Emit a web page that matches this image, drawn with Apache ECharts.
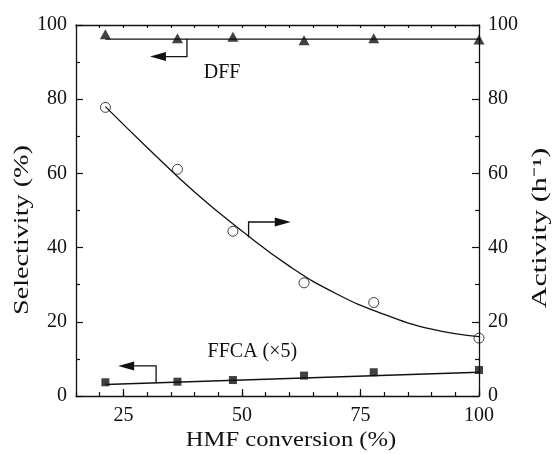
<!DOCTYPE html>
<html>
<head>
	<meta charset="utf-8">
	<title>Selectivity and activity vs HMF conversion</title>
	<script src="https://cdn.jsdelivr.net/npm/echarts@6/dist/echarts.min.js"></script>
	<style>
		html, body { margin: 0; padding: 0; background: #fff; }
		#chart { width: 552px; height: 454px; }
	</style>
</head>
<body>
<div id="chart"></div>
<script>
	// HMF conversion (%) for each measured point
	var conversion = [21.2, 36.4, 48.1, 63.1, 77.8, 100];
	// selectivity to DFF (%), left axis
	var dff = [97.5, 96.4, 96.8, 95.9, 96.4, 96.1];
	// selectivity to FFCA x5 (%), left axis
	var ffca = [3.7, 3.85, 4.3, 5.5, 6.4, 7.0];
	// activity (h-1), right axis
	var activity = [77.8, 61.1, 44.4, 30.5, 25.2, 15.6];

	// fitted lines
	var dffFit = [[21.2, 96.2], [100, 96.2]];
	var ffcaFit = [[21.2, 3.1], [100, 6.4]];
	var activityFitX = [21.2, 30, 40, 50, 60, 70, 80, 90, 100];
	var activityFitY = [78, 67, 55, 44.5, 35, 27.5, 22, 18, 16];

	var xMajor = [25, 50, 75, 100];
	var font = '"Liberation Serif", "Times New Roman", Times, serif';
	var ink = '#111';

	function pairs(xs, ys) {
		return xs.map(function (x, i) { return [x, ys[i]]; });
	}

	var chart = echarts.init(document.getElementById('chart'), null, {renderer: 'canvas'});

	var yBase = {
		type: 'value', min: 0, max: 100, interval: 20,
		axisLine: {show: true, lineStyle: {color: ink, width: 1.3}},
		axisTick: {show: true, inside: true, length: 7, lineStyle: {color: ink, width: 1.2}},
		minorTick: {show: true, splitNumber: 2, length: 4, lineStyle: {color: ink, width: 1.2}},
		splitLine: {show: false},
		axisLabel: {color: ink, fontFamily: font, fontSize: 20, margin: 9}
	};

	chart.setOption({
		animation: false,
		backgroundColor: '#fff',
		grid: {left: 76, right: 73, top: 25, bottom: 58},
		xAxis: [{
			type: 'value', min: 15, max: 100, position: 'bottom',
			axisLine: {show: true, onZero: false, lineStyle: {color: ink, width: 1.3}},
			axisTick: {show: true, inside: true, length: 7, customValues: xMajor, lineStyle: {color: ink, width: 1.2}},
			axisLabel: {color: ink, fontFamily: font, fontSize: 20, margin: 10, customValues: xMajor},
			splitLine: {show: false}
		}, {
			type: 'value', min: 15, max: 100, interval: 5, position: 'bottom',
			axisLine: {show: false, onZero: false},
			axisTick: {show: true, inside: true, length: 4, lineStyle: {color: ink, width: 1.2}},
			axisLabel: {show: false},
			splitLine: {show: false}
		}, {
			type: 'value', min: 15, max: 100, interval: 5, position: 'top',
			axisLine: {show: true, onZero: false, lineStyle: {color: ink, width: 1.3}},
			axisTick: {show: true, inside: true, length: 3, lineStyle: {color: ink, width: 1.2}},
			axisLabel: {show: false},
			splitLine: {show: false}
		}],
		yAxis: [
			Object.assign({}, yBase, {position: 'left'}),
			Object.assign({}, yBase, {position: 'right'})
		],
		series: [{
			type: 'line', data: dffFit, symbol: 'none', silent: true,
			lineStyle: {color: ink, width: 1.3}
		}, {
			type: 'scatter', data: pairs(conversion, dff),
			symbol: 'triangle', symbolSize: [11, 10],
			itemStyle: {color: ink}
		}, {
			type: 'line', yAxisIndex: 1, data: pairs(activityFitX, activityFitY),
			smooth: true, symbol: 'none', silent: true,
			lineStyle: {color: ink, width: 1.3}
		}, {
			type: 'scatter', yAxisIndex: 1, data: pairs(conversion, activity),
			symbol: 'circle', symbolSize: 10, z: 5,
			itemStyle: {color: 'rgba(0,0,0,0)', borderColor: ink, borderWidth: 1}
		}, {
			type: 'line', data: ffcaFit, symbol: 'none', silent: true,
			lineStyle: {color: ink, width: 1.3}
		}, {
			type: 'scatter', data: pairs(conversion, ffca),
			symbol: 'rect', symbolSize: 8,
			itemStyle: {color: ink}
		}]
	});

	// arrows that tell which axis a curve belongs to: [stem start, corner, head tip]
	var arrows = [
		{y: 0, pts: [[38.4, 96.2], [38.4, 91.5], [30.6, 91.5]]},
		{y: 1, pts: [[51.4, 42.8], [51.4, 46.9], [60.3, 46.9]]},
		{y: 0, pts: [[31.9, 3.45], [31.9, 8.1], [23.9, 8.1]]}
	];
	var labels = [
		{text: 'DFF', at: [45.8, 87.1]},
		{text: 'FFCA (×5)', at: [52.2, 12.0]}
	];

	var graphics = [];
	arrows.forEach(function (a) {
		var p = a.pts.map(function (d) {
			return chart.convertToPixel({xAxisIndex: 0, yAxisIndex: a.y}, d);
		});
		var dir = p[2][0] > p[1][0] ? 1 : -1;
		var base = p[2][0] - dir * 16;
		graphics.push({
			type: 'polyline', silent: true,
			shape: {points: [p[0], p[1], [base, p[2][1]]]},
			style: {stroke: ink, lineWidth: 1.3, fill: null}
		});
		graphics.push({
			type: 'polygon', silent: true,
			shape: {points: [p[2], [base, p[2][1] - 4.5], [base, p[2][1] + 4.5]]},
			style: {fill: ink}
		});
	});
	labels.forEach(function (l) {
		var p = chart.convertToPixel({xAxisIndex: 0, yAxisIndex: 0}, l.at);
		graphics.push({
			type: 'text', x: p[0], y: p[1], silent: true,
			style: {text: l.text, fill: ink, font: '20px ' + font, align: 'center', verticalAlign: 'middle'}
		});
	});

	// axis titles, stretched along their length like the original figure
	graphics.push({
		type: 'text', x: 291, y: 441, scaleX: 1.23, silent: true,
		style: {text: 'HMF conversion (%)', fill: ink, font: '20px ' + font, align: 'center', verticalAlign: 'middle'}
	});
	graphics.push({
		type: 'text', x: 23, y: 230, rotation: Math.PI / 2, scaleX: 1.41, silent: true,
		style: {text: 'Selectivity (%)', fill: ink, font: '20px ' + font, align: 'center', verticalAlign: 'middle'}
	});
	graphics.push({
		type: 'text', x: 541, y: 228, rotation: Math.PI / 2, scaleX: 1.5, silent: true,
		style: {text: 'Activity (h⁻¹)', fill: ink, font: '20px ' + font, align: 'center', verticalAlign: 'middle'}
	});

	chart.setOption({graphic: graphics});
</script>
</body>
</html>
